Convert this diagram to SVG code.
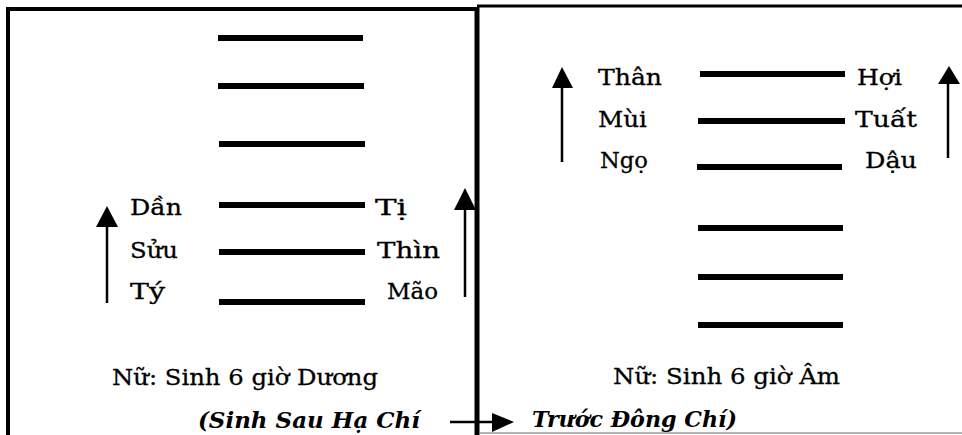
<svg xmlns="http://www.w3.org/2000/svg" width="962" height="435" viewBox="0 0 962 435">
<style>
.bar{stroke:#000;stroke-width:6;fill:none}
.lbl{font-family:"DejaVu Serif","Liberation Serif",serif;font-size:23px;fill:#000;stroke:#000;stroke-width:0.3}
.it{font-family:"DejaVu Serif","Liberation Serif",serif;font-size:23px;font-style:italic;font-weight:bold;fill:#000}
.frame{stroke:#000;fill:none}
.shaft{stroke:#000;stroke-width:2.5;fill:none}
.head{fill:#000}
</style>
<rect width="962" height="435" fill="#fff"/>
<g id="frame">
<line class="frame" x1="6" y1="9" x2="477" y2="9" stroke-width="4"/>
<line class="frame" x1="477" y1="6" x2="962" y2="6" stroke-width="3"/>
<line class="frame" x1="8" y1="7" x2="8" y2="435" stroke-width="4"/>
<line class="frame" x1="477" y1="7" x2="477" y2="435" stroke-width="5"/>
<line x1="480" y1="433" x2="962" y2="433" stroke="#999" stroke-width="1.5"/>
</g>
<g id="panel-duong">
<line class="bar" x1="218" y1="38" x2="363" y2="38"/>
<line class="bar" x1="218" y1="86" x2="364" y2="86"/>
<line class="bar" x1="219" y1="144" x2="365" y2="144"/>
<line class="bar" x1="219" y1="205" x2="365" y2="205"/>
<line class="bar" x1="219" y1="252" x2="365" y2="252"/>
<line class="bar" x1="219" y1="302" x2="365" y2="302"/>
<text class="lbl" x="130" y="215" textLength="52" lengthAdjust="spacingAndGlyphs">Dần</text>
<text class="lbl" x="130" y="258" textLength="48" lengthAdjust="spacingAndGlyphs">Sửu</text>
<text class="lbl" x="130" y="299" textLength="35" lengthAdjust="spacingAndGlyphs">Tý</text>
<text class="lbl" x="375" y="215" textLength="32" lengthAdjust="spacingAndGlyphs">Tị</text>
<text class="lbl" x="377" y="258" textLength="63" lengthAdjust="spacingAndGlyphs">Thìn</text>
<text class="lbl" x="387" y="299" textLength="51" lengthAdjust="spacingAndGlyphs">Mão</text>
<text class="lbl" x="112" y="385" textLength="266" lengthAdjust="spacingAndGlyphs">Nữ: Sinh 6 giờ Dương</text>
<text class="it" x="198" y="428" textLength="222" lengthAdjust="spacingAndGlyphs">(Sinh Sau Hạ Chí</text>
</g>
<g id="panel-am">
<line class="bar" x1="700" y1="74" x2="845" y2="74"/>
<line class="bar" x1="698" y1="121" x2="845" y2="121"/>
<line class="bar" x1="697" y1="167" x2="842" y2="167"/>
<line class="bar" x1="698" y1="228" x2="843" y2="228"/>
<line class="bar" x1="698" y1="277" x2="843" y2="277"/>
<line class="bar" x1="698" y1="325" x2="843" y2="325"/>
<text class="lbl" x="598" y="85" textLength="64" lengthAdjust="spacingAndGlyphs">Thân</text>
<text class="lbl" x="598" y="127" textLength="49" lengthAdjust="spacingAndGlyphs">Mùi</text>
<text class="lbl" x="600" y="168" textLength="48" lengthAdjust="spacingAndGlyphs">Ngọ</text>
<text class="lbl" x="857" y="85" textLength="45" lengthAdjust="spacingAndGlyphs">Hợi</text>
<text class="lbl" x="855" y="127" textLength="62" lengthAdjust="spacingAndGlyphs">Tuất</text>
<text class="lbl" x="865" y="168" textLength="52" lengthAdjust="spacingAndGlyphs">Dậu</text>
<text class="lbl" x="613" y="384" textLength="227" lengthAdjust="spacingAndGlyphs">Nữ: Sinh 6 giờ Âm</text>
<text class="it" x="532" y="427" textLength="205" lengthAdjust="spacingAndGlyphs">Trước Đông Chí)</text>
</g>
<g id="connectors">
<line class="shaft" x1="107" y1="303" x2="107" y2="222"/>
<polygon class="head" points="107,206 96,227 118,227"/>
<line class="shaft" x1="465" y1="297" x2="465" y2="205"/>
<polygon class="head" points="465,188 454,210 476,210"/>
<line class="shaft" x1="562" y1="162" x2="562" y2="84"/>
<polygon class="head" points="562,67 552,88 573,88"/>
<line class="shaft" x1="948" y1="158" x2="948" y2="80"/>
<polygon class="head" points="949,66 938,84 960,84"/>
<line class="shaft" x1="450" y1="422" x2="496" y2="422"/>
<polygon class="head" points="514,422 492,413 492,432"/>
</g>
</svg>
